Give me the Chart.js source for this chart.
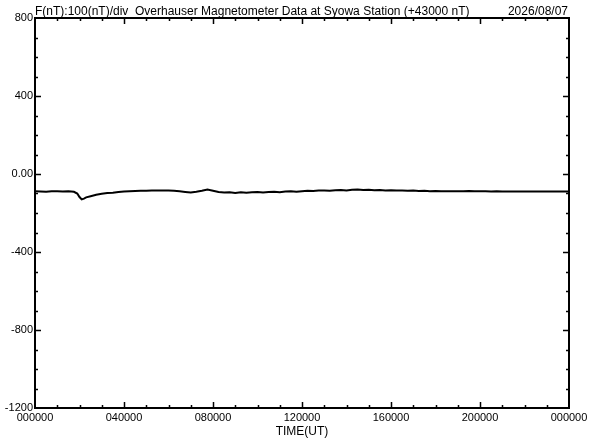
<!DOCTYPE html>
<html>
<head>
<meta charset="utf-8">
<script src="https://cdn.jsdelivr.net/npm/chart.js@4/dist/chart.umd.min.js"></script>
<style>
  body { margin: 0; background: #fff; }
  canvas { display: block; }
</style>
</head>
<body>
<canvas id="mag"></canvas>
<script>
// tid i timmar (UT) och F-värden (nT, relativt 43000 nT)
const timeHours = [0, 0.25, 0.5, 0.75, 1, 1.25, 1.5, 1.75, 1.9, 2, 2.1, 2.2, 2.3, 2.5, 2.75, 3, 3.25, 3.5, 3.75, 4, 4.25, 4.5, 4.75, 5, 5.25, 5.5, 5.75, 6, 6.25, 6.5, 6.75, 7, 7.25, 7.5, 7.75, 8, 8.25, 8.5, 8.75, 9, 9.25, 9.5, 9.75, 10, 10.25, 10.5, 10.75, 11, 11.25, 11.5, 11.75, 12, 12.25, 12.5, 12.75, 13, 13.25, 13.5, 13.75, 14, 14.25, 14.5, 14.75, 15, 15.25, 15.5, 15.75, 16, 16.25, 16.5, 16.75, 17, 17.25, 17.5, 17.75, 18, 18.25, 18.5, 18.75, 19, 19.25, 19.5, 19.75, 20, 20.25, 20.5, 20.75, 21, 21.5, 22, 22.5, 23, 23.5, 24];
const fieldValues = [-89, -90, -91, -89, -88, -90, -89, -91, -100, -118, -130, -126, -120, -114, -106, -101, -98, -96, -92, -90, -88, -87, -86, -86, -85, -84, -85, -85, -86, -89, -92, -95, -91, -86, -80, -86, -92, -95, -94, -97, -93, -96, -94, -92, -95, -92, -91, -93, -90, -89, -91, -88, -86, -87, -85, -84, -86, -83, -82, -84, -81, -80, -82, -81, -83, -82, -84, -83, -85, -84, -86, -85, -87, -86, -88, -87, -88, -88, -89, -89, -88, -87, -89, -88, -89, -90, -89, -90, -90, -90, -90, -90, -90, -90];

// axeletiketter
const xTickLabels = ["000000", "040000", "080000", "120000", "160000", "200000", "000000"];
const yTickLabels = ["-1200", "-800", "-400", "0.00", "400", "800"];

const titleText = "F(nT):100(nT)/div  Overhauser Magnetometer Data at Syowa Station (+43000 nT)";
const dateText = "2026/08/07";

const canvas = document.querySelector("#mag");
canvas.width = 592;
canvas.height = 440;
const ctx = canvas.getContext("2d");

const fontFam = "'Liberation Sans', Arial, sans-serif";

// ram, inåtriktade streck och rubrik
const framePlugin = {
  id: "frame",
  afterDraw(chart) {
    const c = chart.ctx;
    const a = chart.chartArea;
    const xs = chart.scales.x;
    const ys = chart.scales.y;
    c.save();
    c.strokeStyle = "#000";
    c.lineWidth = 2;
    c.strokeRect(a.left, a.top, a.right - a.left, a.bottom - a.top);

    c.lineWidth = 1.5;
    c.beginPath();
    for (let h = 1; h < 24; h++) {
      const px = Math.round(xs.getPixelForValue(h)) + 0.5;
      const len = h % 4 === 0 ? 6 : 3;
      c.moveTo(px, a.bottom);
      c.lineTo(px, a.bottom - len);
      c.moveTo(px, a.top);
      c.lineTo(px, a.top + len);
    }
    for (let v = -1100; v < 800; v += 100) {
      const py = Math.round(ys.getPixelForValue(v)) + 0.5;
      const len = v % 400 === 0 ? 6 : 3;
      c.moveTo(a.left, py);
      c.lineTo(a.left + len, py);
      c.moveTo(a.right, py);
      c.lineTo(a.right - len, py);
    }
    c.stroke();

    c.fillStyle = "#000";
    c.font = "12px " + fontFam;
    c.textBaseline = "alphabetic";
    c.textAlign = "left";
    c.fillText(titleText, a.left, 15);
    c.textAlign = "right";
    c.fillText(dateText, a.right - 1, 15);
    c.restore();
  },
};

let magChart = new Chart(ctx, {
  type: "line",
  data: {
    datasets: [
      {
        data: timeHours.map((t, i) => ({ x: t, y: fieldValues[i] })),
        borderColor: "#000",
        borderWidth: 2,
        pointRadius: 0,
        tension: 0,
        fill: false,
      },
    ],
  },
  options: {
    responsive: false,
    animation: false,
    layout: { padding: { top: 18, right: 23, left: 0, bottom: 0 } },
    plugins: {
      legend: { display: false },
      tooltip: { enabled: false },
    },
    scales: {
      x: {
        type: "linear",
        min: 0,
        max: 24,
        afterFit: (scale) => { scale.height = 32; },
        grid: { display: false, drawTicks: false, tickLength: 0 },
        border: { display: false },
        ticks: {
          stepSize: 4,
          autoSkip: false,
          maxRotation: 0,
          padding: 3,
          color: "#000",
          font: { family: fontFam, size: 11 },
          callback: (value, index) => xTickLabels[index],
        },
        title: {
          display: true,
          text: "TIME(UT)",
          color: "#000",
          padding: { top: 0, bottom: 1 },
          font: { family: fontFam, size: 12 },
        },
      },
      y: {
        min: -1200,
        max: 800,
        afterFit: (scale) => { scale.width = 35; },
        grid: { display: false, drawTicks: false, tickLength: 0 },
        border: { display: false },
        ticks: {
          stepSize: 400,
          padding: 2,
          color: "#000",
          font: { family: fontFam, size: 11 },
          callback: (value, index) => yTickLabels[index],
        },
      },
    },
  },
  plugins: [framePlugin],
});
</script>
</body>
</html>
